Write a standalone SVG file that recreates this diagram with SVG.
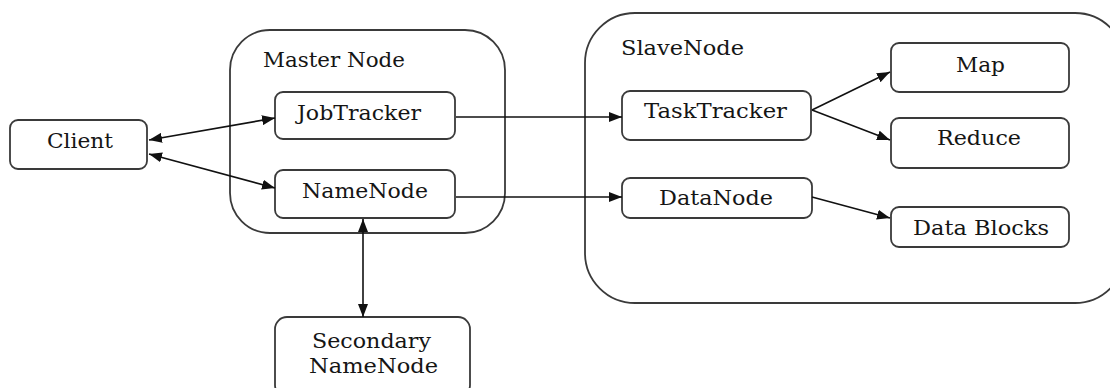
<svg xmlns="http://www.w3.org/2000/svg" width="1110" height="388" viewBox="0 0 1110 388">
<style>
.box{fill:#fff;stroke:#3a3a3a;stroke-width:1.8}
.cont{fill:#fff;stroke:#3a3a3a;stroke-width:1.8}
text{font-family:"DejaVu Serif","Liberation Serif",serif;font-size:21px;fill:#151515}
.ln{stroke:#111;stroke-width:1.6;fill:none;marker-end:url(#ah)}
.bi{marker-start:url(#ah)}
</style>
<defs>
<marker id="ah" markerUnits="userSpaceOnUse" markerWidth="13" markerHeight="10" refX="13" refY="5" orient="auto-start-reverse">
<path d="M0,0 L13,5 L0,10 z" fill="#111"/>
</marker>
</defs>
<rect width="1110" height="388" fill="#fff"/>
<g id="master">
<rect class="cont" x="230" y="30" width="275" height="203" rx="40"/>
<text x="263" y="67" textLength="142" lengthAdjust="spacingAndGlyphs">Master Node</text>
</g>
<g id="slave">
<rect class="cont" x="585" y="13" width="540" height="290" rx="50"/>
<text x="621" y="55" textLength="123" lengthAdjust="spacingAndGlyphs">SlaveNode</text>
</g>
<g id="client">
<rect class="box" x="10" y="120" width="137" height="49" rx="8"/>
<text x="47" y="148" textLength="66" lengthAdjust="spacingAndGlyphs">Client</text>
</g>
<g id="jobtracker">
<rect class="box" x="275" y="92" width="180" height="47" rx="8"/>
<text x="297" y="120" textLength="124" lengthAdjust="spacingAndGlyphs">JobTracker</text>
</g>
<g id="namenode">
<rect class="box" x="275" y="170" width="180" height="48" rx="8"/>
<text x="302" y="198" textLength="126" lengthAdjust="spacingAndGlyphs">NameNode</text>
</g>
<g id="secondary">
<rect class="box" x="275" y="317" width="195" height="80" rx="12"/>
<text x="312" y="348" textLength="119" lengthAdjust="spacingAndGlyphs">Secondary</text>
<text x="309" y="373" textLength="129" lengthAdjust="spacingAndGlyphs">NameNode</text>
</g>
<g id="tasktracker">
<rect class="box" x="622" y="91" width="189" height="49" rx="8"/>
<text x="644" y="118" textLength="143" lengthAdjust="spacingAndGlyphs">TaskTracker</text>
</g>
<g id="datanode">
<rect class="box" x="622" y="178" width="190" height="40" rx="8"/>
<text x="659" y="205" textLength="114" lengthAdjust="spacingAndGlyphs">DataNode</text>
</g>
<g id="map">
<rect class="box" x="891" y="43" width="178" height="49" rx="8"/>
<text x="956" y="72" textLength="49" lengthAdjust="spacingAndGlyphs">Map</text>
</g>
<g id="reduce">
<rect class="box" x="891" y="118" width="178" height="50" rx="8"/>
<text x="937" y="145" textLength="84" lengthAdjust="spacingAndGlyphs">Reduce</text>
</g>
<g id="datablocks">
<rect class="box" x="891" y="207" width="178" height="40" rx="8"/>
<text x="913" y="235" textLength="136" lengthAdjust="spacingAndGlyphs">Data Blocks</text>
</g>
<g id="connectors">
<line class="ln bi" x1="149" y1="140" x2="275" y2="118"/>
<line class="ln bi" x1="149" y1="154" x2="275" y2="188"/>
<line class="ln bi" x1="363" y1="219" x2="363" y2="317"/>
<line class="ln" x1="456" y1="117" x2="622" y2="117"/>
<line class="ln" x1="456" y1="197" x2="622" y2="197"/>
<line class="ln" x1="812" y1="110" x2="890" y2="72"/>
<line class="ln" x1="812" y1="110" x2="890" y2="140"/>
<line class="ln" x1="812" y1="197" x2="890" y2="218"/>
</g>
</svg>
